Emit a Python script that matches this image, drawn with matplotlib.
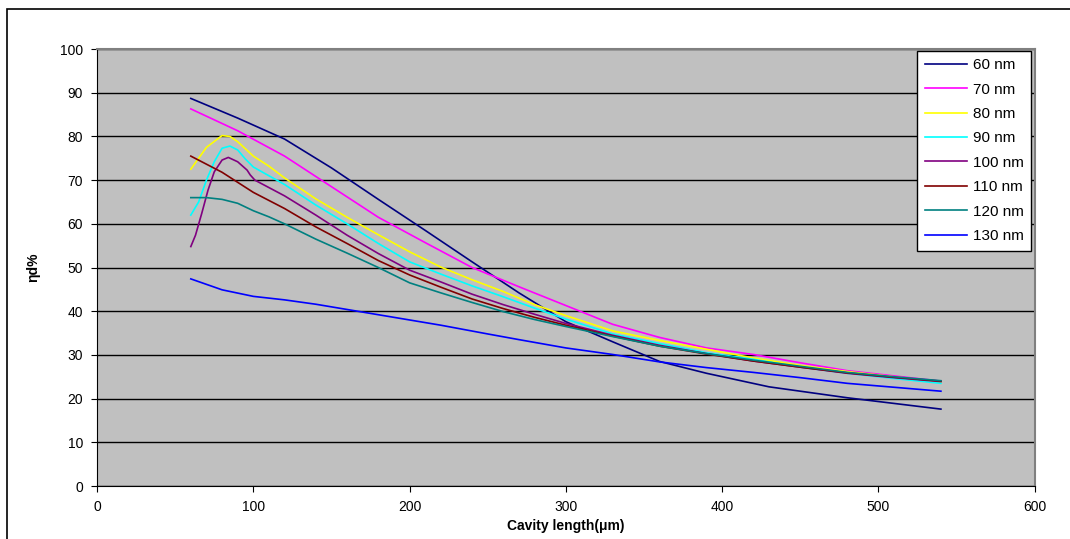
import numpy as np
import matplotlib
matplotlib.use('Agg')
import matplotlib.pyplot as plt
from matplotlib.patches import Rectangle

plt.rcParams['font.family'] = ['Liberation Sans', 'DejaVu Sans']

# ---- data ----
x_60 = [60, 90, 120, 150, 180, 210, 240, 270, 300, 330, 360, 390, 430, 480, 540]
y_60 = [88.7, 84.2, 79.4, 72.8, 65.6, 58.5, 51.3, 44.2, 37.6, 33.0, 28.5, 25.8, 22.7, 20.2, 17.6]

x_70 = [60, 90, 120, 150, 180, 210, 240, 270, 300, 330, 360, 390, 420, 450, 480, 510, 540]
y_70 = [86.3, 81.3, 75.5, 68.5, 61.5, 55.7, 50.0, 45.6, 41.3, 37.0, 34.0, 31.6, 30.1, 28.2, 26.4, 25.2, 24.0]

x_80 = [60, 70, 80, 85, 90, 100, 110, 120, 140, 160, 180, 200, 220, 240, 260, 280, 300,
        330, 360, 390, 420, 450, 480, 510, 540]
y_80 = [72.5, 77.5, 80.2, 80.0, 78.8, 75.5, 73.2, 70.5, 65.7, 61.5, 57.5, 53.6, 50.1, 47.2,
        44.5, 41.5, 39.0, 35.5, 33.3, 31.3, 29.3, 27.6, 26.2, 25.0, 23.8]

x_90 = [60, 65, 70, 75, 80, 85, 90, 95, 100, 120, 140, 160, 180, 200, 220, 240, 260, 280,
        300, 330, 360, 390, 420, 450, 480, 510, 540]
y_90 = [62.0, 65.0, 70.0, 74.2, 77.3, 77.8, 76.9, 74.8, 73.0, 69.0, 64.3, 60.0, 55.5, 51.3,
        48.5, 45.8, 43.3, 40.7, 38.2, 34.8, 32.6, 30.5, 29.0, 27.2, 25.8, 24.6, 23.5]

x_100 = [60, 63, 67, 71, 75, 80, 84, 90, 96, 98, 101, 120, 140, 160, 180, 200, 220, 240,
         260, 280, 300, 330, 360, 390, 420, 450, 480, 510, 540]
y_100 = [54.8, 57.4, 62.4, 67.7, 71.9, 74.6, 75.2, 74.2, 72.3, 71.2, 70.0, 66.4, 62.0, 57.4,
         53.2, 49.4, 46.7, 43.9, 41.5, 39.3, 37.2, 34.5, 32.2, 30.3, 28.6, 27.2, 25.8, 24.8, 23.9]

x_110 = [60, 80, 100, 120, 140, 160, 180, 200, 220, 240, 260, 280, 300, 330, 360, 390, 420,
         450, 480, 510, 540]
y_110 = [75.5, 71.8, 67.2, 63.5, 59.3, 55.5, 51.6, 48.3, 45.5, 42.8, 40.6, 38.6, 36.8, 34.3,
         32.0, 30.2, 28.6, 27.2, 25.9, 24.9, 24.0]

x_120 = [60, 70, 80, 90, 100, 110, 120, 140, 160, 180, 200, 220, 240, 260, 280, 300, 330,
         360, 390, 420, 450, 480, 510, 540]
y_120 = [66.0, 66.0, 65.6, 64.7, 63.0, 61.6, 60.0, 56.5, 53.3, 50.0, 46.5, 44.2, 42.0, 39.9,
         38.1, 36.5, 34.2, 32.0, 30.3, 28.8, 27.4, 26.0, 25.0, 24.1]

x_130 = [60, 80, 100, 120, 140, 160, 190, 220, 250, 270, 300, 330, 360, 390, 420, 450, 480,
         510, 540]
y_130 = [47.4, 44.9, 43.4, 42.6, 41.6, 40.4, 38.6, 36.8, 34.8, 33.5, 31.6, 30.1, 28.4, 27.1,
         26.0, 24.8, 23.5, 22.6, 21.7]

labels = ['60 nm', '70 nm', '80 nm', '90 nm', '100 nm', '110 nm', '120 nm', '130 nm']
colors = ['#000080', '#FF00FF', '#FFFF00', '#00FFFF', '#800080', '#800000', '#008080', '#0000FF']
series = [(x_60, y_60), (x_70, y_70), (x_80, y_80), (x_90, y_90),
          (x_100, y_100), (x_110, y_110), (x_120, y_120), (x_130, y_130)]

# ---- figure ----
fig = plt.figure(figsize=(10.7, 5.39), dpi=100)
fig.patches.append(Rectangle((0.007, -0.1), 1.1, 1.083, transform=fig.transFigure,
                             fill=False, edgecolor='black', linewidth=1.2))
ax = fig.add_axes([0.0907, 0.0983, 0.8763, 0.8107])
ax.set_facecolor('#C0C0C0')

for (xs, ys), c, lab in zip(series, colors, labels):
    ax.plot(xs, ys, color=c, linewidth=1.2, label=lab)

ax.set_xlim(0, 600)
ax.set_ylim(0, 100)
ax.set_xticks(np.arange(0, 601, 100))
ax.set_yticks(np.arange(0, 101, 10))
ax.yaxis.grid(True, color='black', linewidth=1.0)
ax.set_axisbelow(True)

for s in ['top', 'right']:
    ax.spines[s].set_color('#808080')
    ax.spines[s].set_linewidth(1.5)
for s in ['left', 'bottom']:
    ax.spines[s].set_color('black')
ax.tick_params(direction='out', length=4, labelsize=10, pad=6)

ax.set_xlabel('Cavity length(μm)', fontsize=10, fontweight='bold', labelpad=4)
ax.set_ylabel('ηd%', fontsize=10, fontweight='bold', labelpad=14)

leg = ax.legend(loc='upper right', bbox_to_anchor=(0.998, 1.0), fontsize=11,
                frameon=True, fancybox=False, framealpha=1, edgecolor='black',
                handlelength=2.8, handletextpad=0.35, borderpad=0.5, labelspacing=0.68,
                borderaxespad=0.1)
leg.get_frame().set_linewidth(1.0)

fig.savefig('out.png', dpi=100)
